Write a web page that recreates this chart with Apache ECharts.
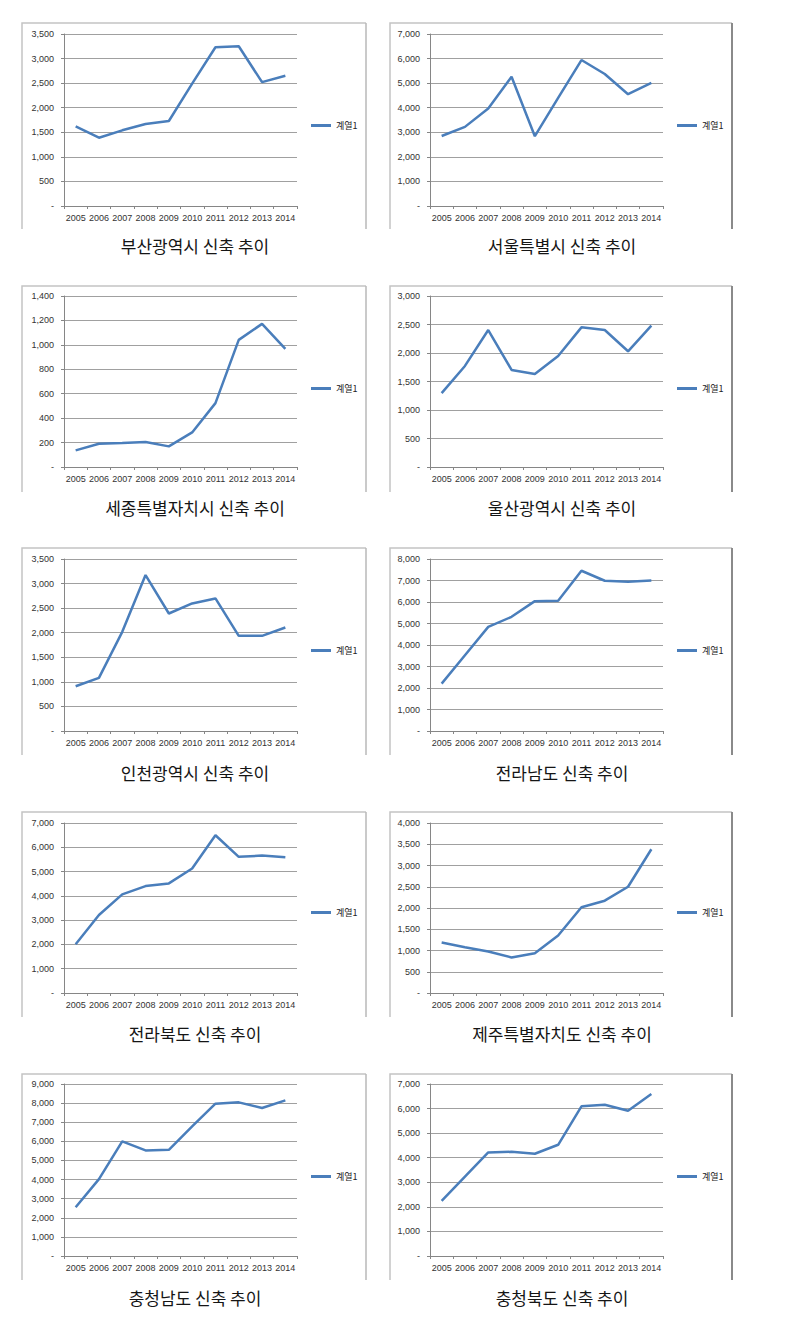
<!DOCTYPE html>
<html>
<head>
<meta charset="utf-8">
<script src="https://cdn.jsdelivr.net/npm/echarts@6/dist/echarts.min.js"></script>
<style>
html,body{margin:0;padding:0;background:#fff;}
#c{width:789px;height:1340px;}
</style>
</head>
<body>
<div id="c"></div>
<script>
// ---- data ----
const years = ['2005','2006','2007','2008','2009','2010','2011','2012','2013','2014'];
const seriesName = '계열1';
const titles = [
  '부산광역시 신축 추이', '서울특별시 신축 추이',
  '세종특별자치시 신축 추이', '울산광역시 신축 추이',
  '인천광역시 신축 추이', '전라남도 신축 추이',
  '전라북도 신축 추이', '제주특별자치도 신축 추이',
  '충청남도 신축 추이', '충청북도 신축 추이'
];
const busan   = [1620, 1390, 1540, 1670, 1730, 2490, 3230, 3250, 2520, 2650];
const seoul   = [2850, 3220, 3970, 5260, 2840, 4400, 5940, 5370, 4550, 5010];
const sejong  = [136, 190, 196, 204, 169, 283, 523, 1041, 1172, 967];
const ulsan   = [1295, 1773, 2403, 1703, 1633, 1948, 2450, 2403, 2030, 2480];
const incheon = [910, 1080, 2018, 3173, 2391, 2595, 2697, 1936, 1936, 2106];
const jeonnam = [2205, 3525, 4845, 5310, 6040, 6055, 7453, 6988, 6940, 7003];
const jeonbuk = [2010, 3214, 4062, 4403, 4513, 5127, 6496, 5607, 5660, 5594];
const jeju    = [1187, 1078, 977, 836, 937, 1352, 2016, 2172, 2500, 3383];
const chungnam= [2552, 4020, 5995, 5524, 5559, 6781, 7970, 8040, 7744, 8146];
const chungbuk= [2243, 3235, 4213, 4240, 4160, 4526, 6090, 6158, 5913, 6592];
const allSeries = [busan, seoul, sejong, ulsan, incheon, jeonnam, jeonbuk, jeju, chungnam, chungbuk];
const yMax  = [3500, 7000, 1400, 3000, 3500, 8000, 7000, 4000, 9000, 7000];
const yStep = [500, 1000, 200, 500, 500, 1000, 1000, 500, 1000, 1000];

// ---- layout ----
const rows = [
  {frameTop: 23,   plotTop: 34,   plotBottom: 206,  frameBottom: 229,  titleY: 245,  legendY: 127},
  {frameTop: 286,  plotTop: 296,  plotBottom: 467,  frameBottom: 492,  titleY: 507,  legendY: 390},
  {frameTop: 548,  plotTop: 559,  plotBottom: 731,  frameBottom: 755,  titleY: 772,  legendY: 652},
  {frameTop: 812,  plotTop: 823,  plotBottom: 993,  frameBottom: 1017, titleY: 1033, legendY: 914},
  {frameTop: 1074, plotTop: 1084, plotBottom: 1256, frameBottom: 1280, titleY: 1297, legendY: 1178}
];
const cols = [
  {frameLeft: 22,  frameRight: 366, plotLeft: 64,  plotWidth: 233, legendX: 311, titleX: 195, rightColor: '#b8b8b8', rightWidth: 1.5},
  {frameLeft: 390, frameRight: 732, plotLeft: 430, plotWidth: 233, legendX: 677, titleX: 562, rightColor: '#8a8a8a', rightWidth: 2}
];

const LINE_COLOR = '#4a7ebb';
const AXIS_COLOR = '#868686';
const GRID_COLOR = '#a0a0a0';
const LABEL_FONT = 'Liberation Sans, Arial, sans-serif';
const KR_FONT = '"Noto Sans CJK KR", sans-serif';

const grids = [], xAxes = [], yAxes = [], series = [], legends = [], graphics = [];

function fmt(v) {
  if (v === 0) return '-';
  return v.toLocaleString('en-US');
}

for (let i = 0; i < 10; i++) {
  const r = rows[Math.floor(i / 2)];
  const c = cols[i % 2];
  grids.push({
    left: c.plotLeft, top: r.plotTop, width: c.plotWidth, height: r.plotBottom - r.plotTop,
    outerBoundsMode: 'none', containLabel: false
  });
  xAxes.push({
    type: 'category', gridIndex: i, data: years, boundaryGap: true,
    axisLine: {show: true, lineStyle: {color: AXIS_COLOR, width: 1}},
    axisTick: {show: true, alignWithLabel: false, length: 3, lineStyle: {color: AXIS_COLOR}},
    axisLabel: {fontSize: 9, color: '#333', margin: 7, fontFamily: LABEL_FONT, interval: 0},
    splitLine: {show: false}
  });
  yAxes.push({
    type: 'value', gridIndex: i, min: 0, max: yMax[i], interval: yStep[i],
    axisLine: {show: true, lineStyle: {color: AXIS_COLOR, width: 1}},
    axisTick: {show: true, length: 3, lineStyle: {color: AXIS_COLOR}},
    axisLabel: {fontSize: 9, color: '#333', margin: 10, fontFamily: LABEL_FONT, formatter: fmt},
    splitLine: {show: true, lineStyle: {color: GRID_COLOR, width: 1}}
  });
  series.push({
    type: 'line', name: seriesName, xAxisIndex: i, yAxisIndex: i, data: allSeries[i],
    symbol: 'none', smooth: false, animation: false,
    lineStyle: {color: LINE_COLOR, width: 2.5}, itemStyle: {color: LINE_COLOR}
  });
  legends.push({
    data: [seriesName], left: c.legendX, top: r.legendY - 6, padding: 0,
    icon: 'rect', itemWidth: 20, itemHeight: 3, itemGap: 0, selectedMode: false,
    textStyle: {fontSize: 9, color: '#222', fontFamily: KR_FONT}
  });
  // frame (open at bottom)
  graphics.push({
    type: 'polyline', silent: true,
    shape: {points: [[c.frameLeft, r.frameBottom], [c.frameLeft, r.frameTop], [c.frameRight, r.frameTop]]},
    style: {stroke: '#c4c4c4', lineWidth: 1.5, fill: null}
  });
  graphics.push({
    type: 'line', silent: true,
    shape: {x1: c.frameRight, y1: r.frameTop, x2: c.frameRight, y2: r.frameBottom},
    style: {stroke: c.rightColor, lineWidth: c.rightWidth}
  });
  graphics.push({
    type: 'text', silent: true, x: c.titleX, y: r.titleY,
    style: {text: titles[i], fontSize: 17, fontFamily: KR_FONT, fill: '#151515',
            align: 'center', verticalAlign: 'middle', textAlign: 'center', textVerticalAlign: 'middle'}
  });
}

const chart = echarts.init(document.getElementById('c'), null, {renderer: 'svg', width: 789, height: 1340});
chart.setOption({
  backgroundColor: '#ffffff',
  animation: false,
  grid: grids, xAxis: xAxes, yAxis: yAxes, series: series, legend: legends,
  graphic: graphics
});
</script>
</body>
</html>
